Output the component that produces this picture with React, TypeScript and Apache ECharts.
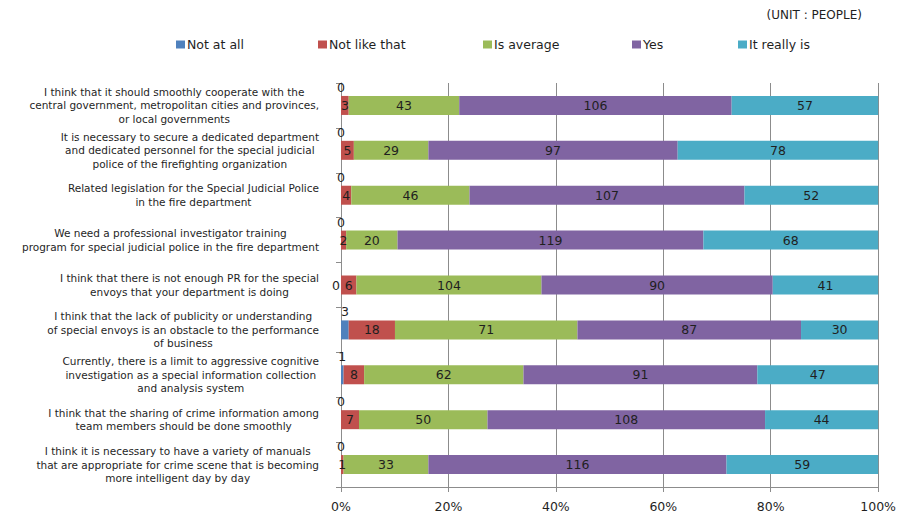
import React, { useEffect, useRef } from "react";
import * as echarts from "echarts";

const categories = [
  "I think that it should smoothly cooperate with the\ncentral government, metropolitan cities and provinces,\nor local governments",
  "It is necessary to secure a dedicated department\nand dedicated personnel for the special judicial\npolice of the firefighting organization",
  "Related legislation for the Special Judicial Police\nin the fire department",
  "We need a professional investigator training\nprogram for special judicial police in the fire department",
  "I think that there is not enough PR for the special\nenvoys that your department is doing",
  "I think that the lack of publicity or understanding\nof special envoys is an obstacle to the performance\nof business",
  "Currently, there is a limit to aggressive cognitive\ninvestigation as a special information collection\nand analysis system",
  "I think that the sharing of crime information among\nteam members should be done smoothly",
  "I think it is necessary to have a variety of manuals\nthat are appropriate for crime scene that is becoming\nmore intelligent day by day",
];

const seriesNames = ["Not at all", "Not like that", "Is average", "Yes", "It really is"];
const seriesColors = ["#4F81BD", "#C0504D", "#9BBB59", "#8064A2", "#4BACC6"];

// counts (people) as drawn
const notAtAll = [0, 0, 0, 0, 0, 3, 1, 0, 0];
const notLikeThat = [3, 5, 4, 2, 6, 18, 8, 7, 1];
const isAverage = [43, 29, 46, 20, 72, 71, 62, 50, 33];
const yes = [106, 97, 107, 119, 90, 87, 91, 108, 116];
const reallyIs = [57, 78, 52, 68, 41, 30, 47, 44, 59];
// printed label for "Is average" (the source chart prints 104 on row 5)
const isAverageLabels = ["43", "29", "46", "20", "104", "71", "62", "50", "33"];

const xTicks = [0, 20, 40, 60, 80, 100];

const FONT = "'DejaVu Sans', 'Open Sans', sans-serif";
const TEXT = "#1f1f1f";
const GRID = "#8c8c8c";

export default function App() {
  const ref = useRef<HTMLDivElement>(null);

  useEffect(() => {
    if (!ref.current) return;
    const chart = echarts.init(ref.current, null, { renderer: "svg" });
    const all = [notAtAll, notLikeThat, isAverage, yes, reallyIs];
    const totals = categories.map((_, i) => all.reduce((s, arr) => s + arr[i], 0));

    const series = all.map((arr, si) => ({
      name: seriesNames[si],
      type: "bar",
      stack: "total",
      barWidth: 19,
      itemStyle: { color: seriesColors[si] },
      label: {
        show: true,
        position: "inside",
        color: TEXT,
        fontFamily: FONT,
        fontSize: 12.5,
        formatter: (p: any) => (si === 2 ? p.data.text : String(p.data.raw)),
      },
      data: arr.map((v, i) => {
        const item: any = { value: (v / totals[i]) * 100, raw: v };
        if (si === 0) {
          item.label = i === 4
            ? { position: "left", distance: 1 }
            : { position: "top", distance: 2 };
        }
        if (si === 2) item.text = isAverageLabels[i];
        return item;
      }),
    }));

    const legendLefts = [176, 318, 483, 632, 738];

    chart.setOption({
      animation: false,
      textStyle: { fontFamily: FONT },
      grid: { left: 341, right: 18, top: 83, bottom: 29, containLabel: false },
      legend: seriesNames.map((n, i) => ({
        data: [n],
        left: legendLefts[i],
        top: 38,
        padding: 0,
        itemWidth: 9,
        itemHeight: 8,
        icon: "rect",
        textStyle: { fontFamily: FONT, fontSize: 12.5, color: TEXT, padding: [0, 0, 0, -3] },
      })),
      graphic: [
        {
          type: "text",
          right: 37,
          top: 9,
          style: { text: "(UNIT : PEOPLE)", fill: TEXT, font: `12px ${FONT}` },
        },
      ],
      xAxis: {
        type: "value",
        min: xTicks[0],
        max: xTicks[xTicks.length - 1],
        interval: xTicks[1] - xTicks[0],
        axisLine: { show: true, lineStyle: { color: GRID } },
        axisTick: { show: true, length: 5, lineStyle: { color: GRID } },
        splitLine: { show: true, lineStyle: { color: GRID } },
        axisLabel: { formatter: "{value}%", color: TEXT, fontFamily: FONT, fontSize: 12.5, margin: 13 },
      },
      yAxis: {
        type: "category",
        inverse: true,
        data: categories,
        axisLine: { show: true, lineStyle: { color: GRID } },
        axisTick: { show: true, length: 5, lineStyle: { color: GRID } },
        axisLabel: {
          interval: 0,
          margin: 22,
          align: "right",
          formatter: (v: string) => v.split("\n").map((l) => `{c|${l}}`).join("\n"),
          rich: {
            c: { align: "center", lineHeight: 13.5, fontSize: 10.5, fontFamily: FONT, color: TEXT },
          },
        },
      },
      series,
    });

    return () => chart.dispose();
  }, []);

  return (
    <div
      ref={ref}
      style={{ position: "fixed", left: 0, top: 0, width: 899, height: 516, background: "#fff" }}
    />
  );
}
